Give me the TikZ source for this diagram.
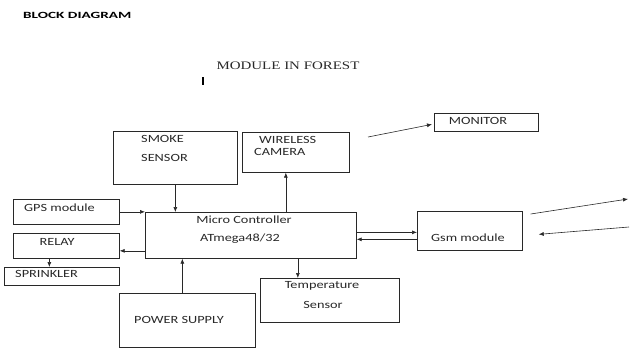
\documentclass[tikz,border=0pt]{standalone}
\usepackage{fontspec}
\usepackage{graphicx}
\usetikzlibrary{arrows.meta,positioning}
\setmainfont{Carlito}
\newfontfamily\titlefont{Liberation Serif}
\newcommand\stretchtext[2][1.3]{\scalebox{#1}[1]{#2}}
\definecolor{inkgray}{RGB}{40,40,40}

\begin{document}
\begin{tikzpicture}[x=1pt, y=-1pt,
  every node/.style={font=\fontsize{11}{13}\selectfont, text=inkgray, inner sep=0pt},
  blk/.style n args={2}{draw=inkgray, line width=0.7pt, anchor=north west, minimum width=#1pt, minimum height=#2pt},
  arr/.style={draw=inkgray, line width=0.6pt, -{Latex[length=5pt,width=4pt]}}]
\useasboundingbox (0,0) rectangle (630,360);

% headings
\node[anchor=west, font=\bfseries\fontsize{9.5}{11}\selectfont, text=black] (head) at (23,15) {\stretchtext[1.6]{BLOCK DIAGRAM}};
\node[font=\titlefont\fontsize{11.5}{13}\selectfont] (title) at (288,66) {\stretchtext{MODULE IN FOREST}};
\draw[line width=1.2pt, black] (203,77) -- (203,85);

% blocks
\node[blk={124}{53}] (smoke) at (113,131) {};
\node[blk={107}{40}] (cam) at (242,132) {};
\node[blk={211}{46}] (mc) at (145,212) {};
\node[blk={139}{44}] (temp) at (260,278) {};
\node[blk={136}{54}] (pow) at (119,293) {};
\node[blk={106}{25}] (gps) at (13,199) {};
\node[blk={106}{25}] (relay) at (13,233) {};
\node[blk={115}{18}] (spr) at (4,267) {};
\node[blk={104}{18}] (mon) at (434,113) {};
\node[blk={105}{39}] (gsm) at (417,211) {};

% labels
\node[anchor=west] (smokea) at (141,139) {\stretchtext{SMOKE}};
\node[anchor=west] (smokeb) at (141,158) {\stretchtext{SENSOR}};
\node[anchor=west] (cama) at (259,140) {\stretchtext{WIRELESS}};
\node[anchor=west] (camb) at (254,152) {\stretchtext{CAMERA}};
\node (mca) at (244,220) {\stretchtext{Micro Controller}};
\node (mcb) at (240,239) {\stretchtext{ATmega48/32}};
\node (tempa) at (322,286) {\stretchtext{Temperature}};
\node (tempb) at (323,305) {\stretchtext{Sensor}};
\node[anchor=west] (powa) at (134,320) {\stretchtext{POWER SUPPLY}};
\node[anchor=west] (gpsa) at (24,208) {\stretchtext{GPS module}};
\node (relaya) at (57,242) {\stretchtext{RELAY}};
\node[anchor=west] (spra) at (15,274) {\stretchtext{SPRINKLER}};
\node (mona) at (478,121) {\stretchtext{MONITOR}};
\node (gsma) at (468,238) {\stretchtext{Gsm module}};

% connectors
\draw[arr] (smoke.south) -- (smoke.south |- mc.north);
\coordinate (camin) at ([xshift=-10pt]cam.south);
\draw[arr] (camin |- mc.north) -- (camin);
\draw[arr] (gps.east) -- (gps.east -| mc.west);
\coordinate (rlout) at ([yshift=-5pt]relay.east);
\draw[arr] (rlout -| mc.west) -- (rlout);
\coordinate (sprin) at ([xshift=-17pt]relay.south);
\draw[arr] (sprin) -- (sprin |- spr.north);
\coordinate (powin) at ([xshift=-5pt]pow.north);
\draw[arr] (powin) -- (powin |- mc.south);
\coordinate (tempin) at ([xshift=-32pt]temp.north);
\draw[arr] (tempin |- mc.south) -- (tempin);
\coordinate (gtx) at ([yshift=3pt]mc.east);
\draw[arr] (gtx) -- (gtx -| gsm.west);
\coordinate (grx) at ([yshift=-4pt]mc.east);
\draw[arr] (grx -| gsm.west) -- (grx);

% free arrows
\coordinate (monfrom) at (368,137);
\draw[arr] (monfrom) -- ([xshift=-2pt,yshift=-2pt]mon.west);
\coordinate (txend) at (628,199);
\draw[arr] ([xshift=8pt,yshift=-3pt]gsm.north east) -- (txend);
\coordinate (rxstart) at (629,227);
\coordinate (rxend) at ([xshift=16pt,yshift=-3.5pt]gsm.east);
\draw[arr] (rxstart) -- (rxend);
\end{tikzpicture}
\end{document}
